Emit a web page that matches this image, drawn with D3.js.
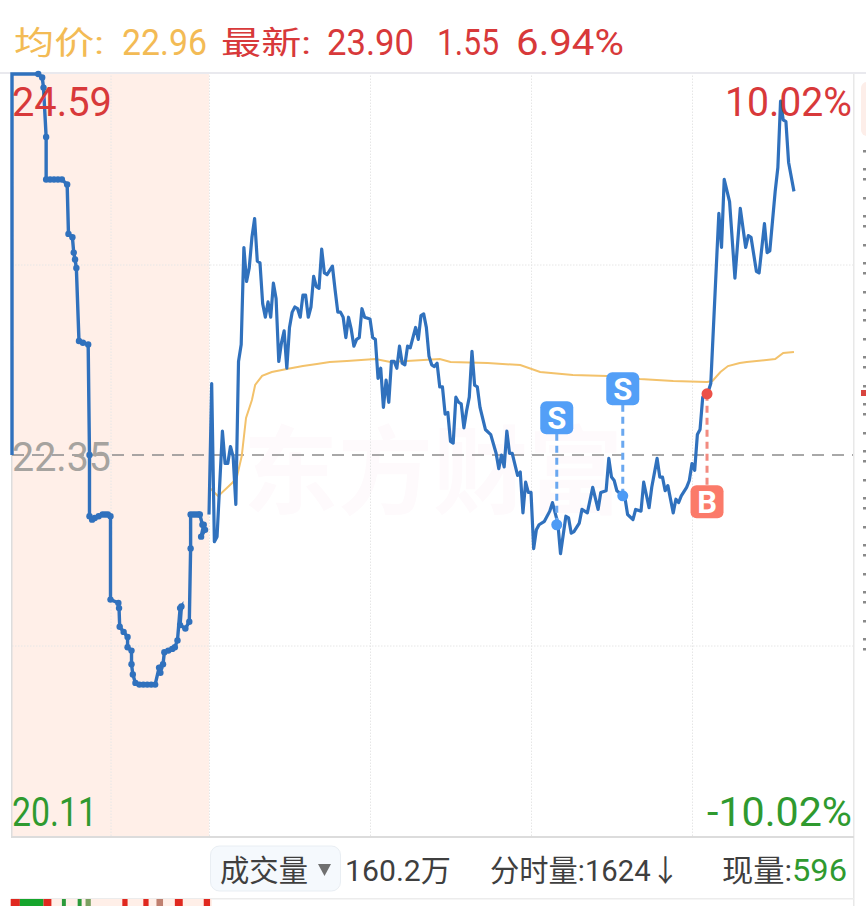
<!DOCTYPE html>
<html>
<head>
<meta charset="utf-8">
<script src="https://cdn.jsdelivr.net/npm/d3@7"></script>
<style>
  html, body { margin: 0; padding: 0; background: #fff; }
  svg { display: block; }
  text { font-family: Roboto, "Noto Sans CJK SC", sans-serif; }
  .grid line { stroke: #e6e6e6; stroke-dasharray: 1.5,1.5; }
  .grid path { display: none; }
</style>
</head>
<body>
<svg id="chart" width="866" height="906"></svg>
<script>
'use strict';

// minutes from the 9:30 open, pre-market runs -15..0
var preMinutes = [-15,-15,-13,-12.7,-12.6,-12.4,-12.4,-12.1,-11.8,-11.5,-11.2,-10.8,-10.7,-10.4,-10.3,-10.2,-10.1,-9.9,-9.6,-9.2,-9.1,-9.1,-8.9,-8.7,-8.4,-8.1,-7.9,-7.7,-7.5,-7.5,-6.9,-6.85,-6.8,-6.5,-6.2,-6.2,-5.9,-5.9,-5.8,-5.6,-5.3,-5,-4.7,-4.4,-4.1,-3.8,-3.7,-3.7,-3.5,-3.4,-3.1,-2.8,-2.6,-2.4,-2.2,-2.1,-2.2,-1.8,-1.5,-1.4,-1.4,-1.2,-1,-0.8,-0.7,-0.5,-0.3,-0.6,-0.4];
var prePrices  = [22.35,24.59,24.59,24.57,24.51,24.22,23.97,23.97,23.97,23.97,23.97,23.94,23.65,23.63,23.54,23.50,23.45,23.02,23.01,23.00,22.35,21.99,21.97,21.98,21.99,22.00,22.00,22.00,21.99,21.50,21.48,21.45,21.34,21.31,21.28,21.22,21.20,21.12,21.06,21.01,21.00,21.00,21.00,21.00,21.00,21.10,21.07,21.10,21.12,21.19,21.20,21.21,21.22,21.26,21.45,21.46,21.35,21.33,21.37,21.80,22.00,22.00,22.00,22.00,22.00,21.94,21.91,21.87,21.94];

var mainMinutes = [0,0.5,1,1.5,2.5,3,3.5,4,4.5,5,5.5,6,6.5,7,7.5,8,8.5,9,9.5,10,10.5,11,11.5,12,12.5,13,13.5,14,14.5,15,15.5,16,16.5,17,17.5,18,18.5,19,19.5,20,20.5,21,21.5,22,23,23.5,24,24.5,25,25.5,26,26.5,27,27.5,28,28.5,29,30,30.5,31,31.5,32,32.5,33,33.5,34,34.5,35,35.5,36,36.5,37,37.5,38.5,39,39.5,40,40.5,41,41.5,42,42.5,43,43.5,44,44.5,45,45.5,46,46.5,47,47.5,48,48.5,49,49.5,50,50.5,51.5,52.5,53.5,54,54.5,55,55.5,56,56.5,57.5,58,58.5,59,59.5,60,60.5,61,61.5,62.5,63.5,64,65,65.5,66.5,67,67.5,68,69,69.5,70.5,71.5,72.5,73,74,74.5,75,75.5,76,77.5,78,79,79.5,80.5,81,82,82.5,83.5,84,84.5,85,85.5,86.5,87,87.5,88,89,89.5,90,90.5,91,91.5,92,93,93.5,95,95.5,96,97,98,99,100,100.5,101,102,102.5,103.5,104,104.5,105.5,106,106.5,107,107.5,108,109];
var mainPrices  = [22.00,22.77,21.84,21.87,22.49,22.30,22.30,22.40,22.34,22.06,22.90,23.00,23.57,23.37,23.45,23.63,23.74,23.49,23.48,23.24,23.16,23.25,23.16,23.36,23.27,22.90,23.01,23.08,22.86,23.10,23.19,23.22,23.21,23.16,23.29,23.29,23.16,23.22,23.40,23.34,23.33,23.56,23.42,23.41,23.46,23.32,23.19,23.19,23.16,23.04,23.16,23.09,22.99,23.03,23.04,23.21,23.16,23.15,23.04,23.03,22.80,22.86,22.63,22.79,22.66,22.90,22.90,22.86,22.99,22.89,22.88,22.99,22.98,23.10,23.03,23.17,23.18,23.10,22.93,22.88,22.87,22.89,22.75,22.75,22.59,22.60,22.43,22.42,22.69,22.66,22.65,22.51,22.61,22.69,22.96,22.76,22.75,22.63,22.50,22.47,22.36,22.27,22.35,22.28,22.49,22.36,22.36,22.23,22.25,22.01,22.19,22.13,22.13,21.80,21.91,21.94,21.96,22.02,22.07,21.95,21.77,21.99,21.98,21.89,21.90,21.95,22.03,22.01,22.16,22.03,22.13,22.14,22.33,22.22,22.20,22.14,22.10,22.00,21.97,22.03,22.02,22.19,22.04,22.16,22.33,22.22,22.22,22.14,22.17,22.01,22.09,22.07,22.11,22.16,22.20,22.30,22.26,22.47,22.50,22.69,22.72,22.77,23.77,23.57,23.97,23.84,23.39,23.80,23.57,23.64,23.63,23.43,23.42,23.71,23.54,23.55,23.90,24.04,24.43,24.32,24.31,24.07,23.90];

var avgMinutes = [0,1.7,4.3,5.2,6.1,6.9,8,8.6,9.9,11.7,14.5,17.5,20.1,22.5,25.7,31,33.8,43,45,51.9,58,61.7,67.8,74.2,80.3,86.5,92.8,93.8,95.3,96.7,98.9,100.2,105.5,107,109];
var avgPrices  = [22.161,22.108,22.185,22.220,22.344,22.568,22.673,22.762,22.815,22.838,22.856,22.873,22.885,22.897,22.903,22.914,22.897,22.914,22.897,22.891,22.879,22.838,22.820,22.815,22.797,22.785,22.779,22.785,22.838,22.873,22.891,22.897,22.914,22.950,22.956];

var tradeTypes   = ["S","S","B"];
var tradeMinutes = [64.8,77.1,92.8];
var tradePrices  = [21.94,22.11,22.71];

var gridMinutes = [-7.5,0,30,60,90];
var gridPrices  = [23.47,21.23];

var volStart  = [-15.1,-14.4,-12.6,-11.2,-10,-9.4,-6.6,-5,-4,-2.6,-0.4];
var volEnd    = [-14.4,-12.6,-12,-10.9,-9.7,-9,-6.2,-4.6,-3.5,-2,0.2];
var volColors = ["#e0281f","#16a52c","#e0281f","#2b9a3a","#2b9a3a","#7aa060","#e0281f","#e0281f","#c08070","#e0281f","#e0281f"];

var preClose = 22.35, high = 24.59, low = 20.11;

var svg = d3.select("#chart"),
    margin = {top: 74, right: 853, bottom: 836, left: 12};

var x = d3.scaleLinear().domain([-15,0,120]).range([margin.left,209,margin.right]),
    y = d3.scaleLinear().domain([low,high]).range([margin.bottom,margin.top]);

var line = d3.line()
    .x(function(d) { return x(d[0]); })
    .y(function(d) { return y(d[1]); });

var pre  = d3.zip(preMinutes, prePrices),
    main = d3.zip(mainMinutes, mainPrices),
    avg  = d3.zip(avgMinutes, avgPrices);

// text helper, textLength squeezes the font to the phone's narrow digits
function label(t, px, py, size, color, len, anchor) {
  let el = svg.append("text")
      .attr("x", px)
      .attr("y", py)
      .attr("font-size", size)
      .attr("fill", color)
      .attr("text-anchor", anchor || "start")
      .text(t);
  if (len) el.attr("textLength", len).attr("lengthAdjust", "spacingAndGlyphs");
  return el;
}

// pre-market band
svg.append("rect")
    .attr("x", margin.left).attr("y", margin.top)
    .attr("width", x(0) - margin.left).attr("height", margin.bottom - margin.top)
    .attr("fill", "#ffefe8");

// watermark
label("东方财富", 243, 506, 96, "#fefafc", 380).attr("font-weight", "bold");

// grid
svg.append("g")
    .attr("class", "grid")
    .attr("transform", "translate(0," + margin.bottom + ")")
    .call(d3.axisBottom(x).tickValues(gridMinutes).tickSize(margin.top - margin.bottom).tickFormat(""));
svg.append("g")
    .attr("class", "grid")
    .attr("transform", "translate(" + margin.left + ",0)")
    .call(d3.axisLeft(y).tickValues(gridPrices).tickSize(margin.left - margin.right).tickFormat(""));

// frame
svg.append("rect").attr("x", 0).attr("y", 72).attr("width", 866).attr("height", 2).attr("fill", "#e9e9ee");
svg.append("rect").attr("x", 11).attr("y", 74).attr("width", 1.5).attr("height", 762).attr("fill", "#dddddd");
svg.append("rect").attr("x", 853).attr("y", 74).attr("width", 1.5).attr("height", 832).attr("fill", "#e8e8e8");
svg.append("rect").attr("x", 11).attr("y", 836).attr("width", 843).attr("height", 2).attr("fill", "#dcdcdc");

// pre close
svg.append("line")
    .attr("x1", margin.left).attr("x2", margin.right)
    .attr("y1", y(preClose)).attr("y2", y(preClose))
    .attr("stroke", "#8c8c8c")
    .attr("stroke-width", 1.6)
    .attr("stroke-dasharray", "12,8");

// average price
svg.append("path")
    .attr("d", line(avg))
    .attr("fill", "none")
    .attr("stroke", "#f3c26b")
    .attr("stroke-width", 2);

// price
svg.append("path")
    .attr("d", line(pre))
    .attr("fill", "none")
    .attr("stroke", "#3071bd")
    .attr("stroke-width", 3.4);
svg.selectAll(".predot")
    .data(pre.slice(2))
  .enter().append("circle")
    .attr("class", "predot")
    .attr("cx", function(d) { return x(d[0]); })
    .attr("cy", function(d) { return y(d[1]); })
    .attr("r", 3.2)
    .attr("fill", "#3071bd");
svg.append("path")
    .attr("d", line(main))
    .attr("fill", "none")
    .attr("stroke", "#3071bd")
    .attr("stroke-width", 3.2)
    .attr("stroke-linejoin", "round");

// buy / sell flags
tradeTypes.forEach(function(t, i) {
  let buy = t == "B",
      px = x(tradeMinutes[i]),
      py = y(tradePrices[i]),
      boxY = buy ? py + 108 : py - 107,
      g = svg.append("g");
  g.append("line")
      .attr("x1", px).attr("x2", px)
      .attr("y1", py).attr("y2", boxY)
      .attr("stroke", buy ? "#f28b80" : "#6aa8f0")
      .attr("stroke-width", 3)
      .attr("stroke-dasharray", "7,5");
  g.append("circle")
      .attr("cx", px).attr("cy", py)
      .attr("r", 5.5)
      .attr("fill", buy ? "#ec5148" : "#4d9bf5");
  g.append("rect")
      .attr("x", px - 16.5).attr("y", boxY - 16.5)
      .attr("width", 33).attr("height", 33)
      .attr("rx", 6)
      .attr("fill", buy ? "#fb7a69" : "#539ff7");
  g.append("text")
      .attr("x", px).attr("y", boxY + 11)
      .attr("text-anchor", "middle")
      .attr("font-size", 31)
      .attr("font-weight", "bold")
      .attr("fill", "#fff")
      .text(t);
});

// header
var yellow = "#f3bb55", red = "#d8393a", green = "#2f9a2f", dark = "#3f3f3f";
label("均价:", 14, 54, 32, yellow, 90);
label("22.96", 122, 55, 37, yellow, 85);
label("最新:", 221, 54, 32, red, 90);
label("23.90", 327, 55, 37, red, 87);
label("1.55", 437, 55, 37, red, 62);
label("6.94%", 516, 55, 37, red, 108);

// axis labels
label("24.59", 12, 116, 41, red, 100);
label("22.35", 12, 471, 41, "#a6a39f", 99);
label("20.11", 12, 826, 41, green, 85);
label("10.02%", 725, 116, 41, red, 127);
label("-10.02%", 707, 826, 41, green, 145);

// volume bar
svg.append("rect")
    .attr("x", 210.5).attr("y", 846)
    .attr("width", 130).attr("height", 45)
    .attr("rx", 9)
    .attr("fill", "#f5f9fd")
    .attr("stroke", "#e9eef3");
label("成交量", 220, 881, 30, dark, 88);
svg.append("path")
    .attr("d", d3.line()([[318,864],[331,864],[324.5,876]]))
    .attr("fill", "#707070");
label("160.2万", 345, 881, 30, dark, 106);
label("分时量:1624↓", 490, 881, 30, dark, 190);
label("现量:", 722, 881, 30, dark, 70);
label("596", 792, 881, 32, green, 55);

// lower panel, cut off by the window
svg.append("rect").attr("x", 11).attr("y", 898).attr("width", 843).attr("height", 1.5).attr("fill", "#ececec");
svg.append("rect").attr("x", margin.left).attr("y", 899).attr("width", 200).attr("height", 7).attr("fill", "#ffefe8");
svg.selectAll(".vol")
    .data(volStart)
  .enter().append("rect")
    .attr("class", "vol")
    .attr("x", function(d) { return x(d); })
    .attr("y", 899)
    .attr("width", function(d, i) { return x(volEnd[i]) - x(d); })
    .attr("height", 7)
    .attr("fill", function(d, i) { return volColors[i]; });

// neighbouring panel sliver on the right
svg.append("rect").attr("x", 861).attr("y", 82).attr("width", 14).attr("height", 54).attr("rx", 6).attr("fill", "#fdeee9");
svg.append("rect").attr("x", 861).attr("y", 390).attr("width", 6).attr("height", 6).attr("fill", "#d8453f");
d3.range(0, 11).forEach(function(r) {
  [0, 18, 28].forEach(function(dy) {
    svg.append("rect")
        .attr("x", 863).attr("y", 150 + r * 47 + dy)
        .attr("width", 3).attr("height", 2.5)
        .attr("fill", "#8a8a8a");
  });
});
</script>
</body>
</html>
